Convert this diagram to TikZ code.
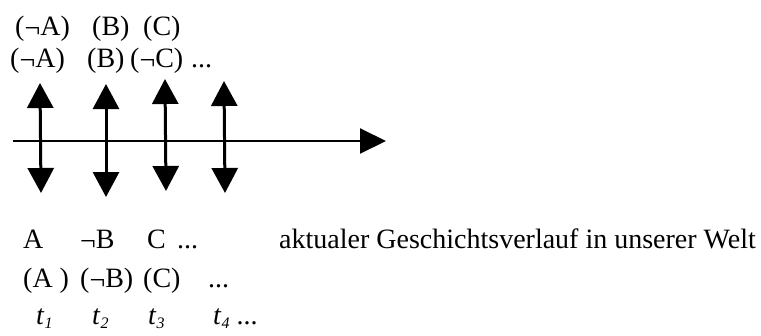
\documentclass[tikz,border=0pt]{standalone}
\usepackage{fontspec}
\setmainfont{Liberation Serif}
\usetikzlibrary{arrows.meta}
\newcommand{\tsub}[1]{\textit{t}\raisebox{-4pt}{\fontsize{16pt}{16pt}\selectfont\itshape #1}}
\newcommand{\myneg}{\raisebox{-2.5pt}{¬}}
\begin{document}
\begin{tikzpicture}[x=1pt,y=-1pt,
  txt/.style={font=\fontsize{28pt}{30pt}\selectfont, inner sep=0pt, anchor=base west},
  varrow/.style={line width=3pt, {Triangle[width=26pt,length=25pt]}-{Triangle[width=26pt,length=25pt]}},
  harrow/.style={line width=2pt, -{Triangle[width=25pt,length=26pt]}}]
\useasboundingbox (0,0) rectangle (761,335);
% row 1
\node[txt] (r1a) at (15,35) {(\myneg A)};
\node[txt] (r1b) at (92,35) {(B)};
\node[txt] (r1c) at (143,35) {(C)};
% row 2
\node[txt] (r2a) at (10,67) {(\myneg A)};
\node[txt] (r2b) at (87,67) {(B)};
\node[txt] (r2c) at (130,67) {(\myneg C)};
\node[txt] (r2d) at (191,67) {...};
% axis
\coordinate (hs) at (13,141);
\coordinate (he) at (386,141);
\draw[harrow] (hs) -- (he);
% vertical arrows
\coordinate (t1) at (40,83);  \coordinate (b1) at (41,193);
\coordinate (t2) at (106,84); \coordinate (b2) at (106,197);
\coordinate (t3) at (165,79); \coordinate (b3) at (166,191);
\coordinate (t4) at (224,81); \coordinate (b4) at (225,193);
\draw[varrow] (t1) -- (b1);
\draw[varrow] (t2) -- (b2);
\draw[varrow] (t3) -- (b3);
\draw[varrow] (t4) -- (b4);
% row 3
\node[txt] (r3a) at (23,248) {A};
\node[txt] (r3b) at (80,248) {\myneg B};
\node[txt] (r3c) at (147,248) {C};
\node[txt] (r3d) at (177,248) {...};
\node[txt] (r3e) at (279,248) {aktualer Geschichtsverlauf in unserer Welt};
% row 4
\node[txt] (r4a) at (23,287) {(A )};
\node[txt] (r4b) at (80,287) {(\myneg B)};
\node[txt] (r4c) at (143,287) {(C)};
\node[txt] (r4d) at (208,287) {...};
% row 5
\node[txt] (r5a) at (36,324) {\tsub{1}};
\node[txt] (r5b) at (92,324) {\tsub{2}};
\node[txt] (r5c) at (148,324) {\tsub{3}};
\node[txt] (r5d) at (213,324) {\tsub{4} ...};
\end{tikzpicture}
\end{document}
